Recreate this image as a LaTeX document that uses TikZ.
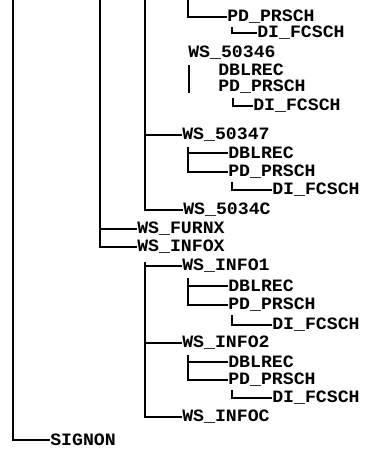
\documentclass[tikz,border=0pt]{standalone}
\usepackage{fontspec}
\newfontfamily\treefont[FakeStretch=1.05]{Liberation Mono}
\usetikzlibrary{calc,positioning}

\begin{document}
\begin{tikzpicture}[x=0.75pt,y=-0.75pt,
    every node/.style={font=\treefont\bfseries\fontsize{13}{13}\selectfont},
    lbl/.style={anchor=west,inner sep=0pt},
    br/.style={line width=1.3pt},
    trunk/.style={line width=1.8pt}]
  \useasboundingbox (0,0) rectangle (365,449);
  % tops of the branches that run off the page
  \coordinate (ta) at (13,0);
  \coordinate (tb) at (100,0);
  \coordinate (tc) at (145,0);
  \coordinate (td) at (188,0);

  % upper part
  \node[lbl] (pd0) at (227,17) {PD\_PRSCH};
  \node[lbl] (di0) at (257,33) {DI\_FCSCH};
  \node[lbl] (w46) at (188,53) {WS\_50346};
  \node[lbl] (db1) at (218,70) {DBLREC};
  \node[lbl] (pd1) at (218,87) {PD\_PRSCH};
  \node[lbl] (di1) at (253,106) {DI\_FCSCH};
  \node[lbl] (w47) at (182,135) {WS\_50347};
  \node[lbl] (db2) at (228,153) {DBLREC};
  \node[lbl] (pd2) at (228,172) {PD\_PRSCH};
  \node[lbl] (di2) at (272,190) {DI\_FCSCH};
  \node[lbl] (w4c) at (183,210) {WS\_5034C};
  \node[lbl] (fur) at (137,229) {WS\_FURNX};
  \node[lbl] (inf) at (137,247) {WS\_INFOX};
  % WS_INFOX subtree
  \node[lbl] (in1) at (182,266) {WS\_INFO1};
  \node[lbl] (db3) at (228,286) {DBLREC};
  \node[lbl] (pd3) at (228,305) {PD\_PRSCH};
  \node[lbl] (di3) at (272,325) {DI\_FCSCH};
  \node[lbl] (in2) at (182,343) {WS\_INFO2};
  \node[lbl] (db4) at (228,362) {DBLREC};
  \node[lbl] (pd4) at (228,380) {PD\_PRSCH};
  \node[lbl] (di4) at (272,398) {DI\_FCSCH};
  \node[lbl] (inc) at (182,417) {WS\_INFOC};
  \node[lbl] (sig) at (50,440) {SIGNON};

  % long trunks
  \draw[trunk] (ta) |- (sig.west);
  \draw[trunk] (tb) |- (inf.west);
  \draw[br] (tb |- fur) -- (fur.west);
  \draw[trunk] (tc) |- (w4c.west);
  \draw[br] (tc |- w47) -- (w47.west);
  \draw[trunk] (td) |- (pd0.west);
  \draw[br] ($(pd0.south west)+(5,3)$) |- (di0.west);

  % WS_50346
  \coordinate (e46) at (189,93);
  \draw[trunk] ($(w46.south west)+(1,5)$) -- (e46);
  \draw[br] ($(pd1.south west)+(15,4)$) |- (di1.west);

  % WS_50347
  \coordinate (c47) at ($(w47.south west)+(6,5)$);
  \draw[trunk] (c47) |- (pd2.west);
  \draw[br] (c47 |- db2) -- (db2.west);
  \draw[br] ($(pd2.south west)+(4,3)$) |- (di2.west);

  % WS_INFOX
  \coordinate (cx) at ($(inf.south west)+(8,8)$);
  \draw[trunk] (cx) |- (inc.west);
  \draw[br] (cx |- in1) -- (in1.west);
  \draw[br] (cx |- in2) -- (in2.west);

  \coordinate (c1) at ($(in1.south west)+(6,5)$);
  \draw[trunk] (c1) |- (pd3.west);
  \draw[br] (c1 |- db3) -- (db3.west);
  \draw[br] ($(pd3.south west)+(4,3)$) |- (di3.west);

  \coordinate (c2) at ($(in2.south west)+(6,5)$);
  \draw[trunk] (c2) |- (pd4.west);
  \draw[br] (c2 |- db4) -- (db4.west);
  \draw[br] ($(pd4.south west)+(4,3)$) |- (di4.west);
\end{tikzpicture}
\end{document}
